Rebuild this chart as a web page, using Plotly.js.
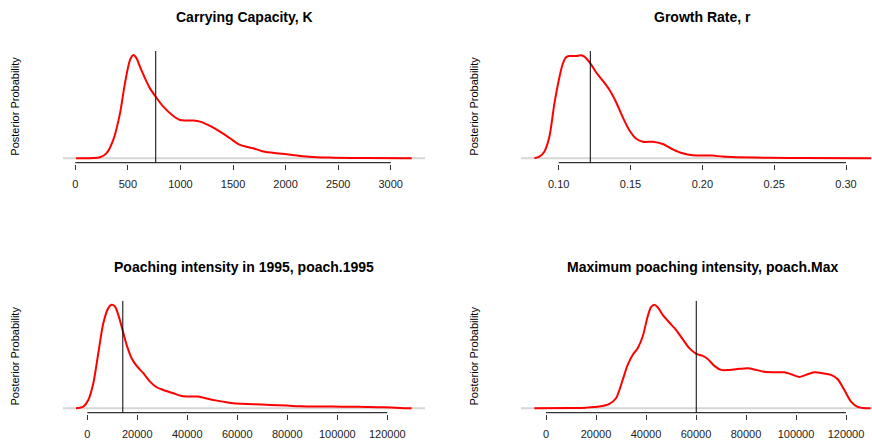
<!DOCTYPE html>
<html>
<head>
<meta charset="utf-8">
<script src="https://cdn.plot.ly/plotly-3.0.1.min.js"></script>
<style>html,body{margin:0;padding:0;background:#fff;}#chart{width:872px;height:443px;}</style>
</head>
<body>
<div id="chart"></div>
<script>
// ---- Data (relative posterior density, peak = 1) ----
var titles = ["Carrying Capacity, K", "Growth Rate, r", "Poaching intensity in 1995, poach.1995", "Maximum poaching intensity, poach.Max"];
var yLabel = "Posterior Probability";

var kX = [6, 235, 298, 362, 425, 472, 520, 552, 583, 615, 663, 710, 764, 837, 932, 996, 1060, 1123, 1186, 1281, 1376, 1471, 1567, 1693, 1788, 1915, 2010, 2137, 2296, 2454, 2771, 3200];
var kY = [0, 0.01, 0.05, 0.18, 0.435, 0.726, 0.95, 1.0, 0.968, 0.887, 0.774, 0.677, 0.597, 0.5, 0.41, 0.371, 0.366, 0.365, 0.355, 0.313, 0.258, 0.194, 0.129, 0.097, 0.065, 0.048, 0.039, 0.023, 0.01, 0.006, 0.002, 0];
var kLine = 765;
var kTicks = [0, 500, 1000, 1500, 2000, 2500, 3000];

var rX = [0.0831, 0.0865, 0.090, 0.0935, 0.097, 0.1005, 0.1028, 0.1051, 0.1074, 0.1121, 0.1155, 0.1179, 0.122, 0.126, 0.1306, 0.1353, 0.1399, 0.1445, 0.1492, 0.1538, 0.1585, 0.1654, 0.1724, 0.1794, 0.1863, 0.1933, 0.2002, 0.2072, 0.2142, 0.2234, 0.2466, 0.2698, 0.3174];
var rY = [0, 0.016, 0.064, 0.208, 0.529, 0.785, 0.913, 0.978, 0.99, 0.99, 0.997, 0.984, 0.92, 0.833, 0.753, 0.663, 0.545, 0.4, 0.272, 0.192, 0.16, 0.16, 0.138, 0.087, 0.048, 0.029, 0.026, 0.026, 0.016, 0.01, 0.005, 0.002, 0];
var rLine = 0.122;
var rTicks = [0.10, 0.15, 0.20, 0.25, 0.30];

var p95X = [-4533, -1600, 400, 2400, 4400, 6400, 8400, 9733, 11067, 12400, 14267, 15733, 17733, 19733, 22400, 25067, 27733, 30400, 34400, 37733, 41067, 44400, 47733, 51733, 55733, 59733, 66400, 73067, 79733, 85067, 91733, 98400, 105067, 111733, 118400, 125067, 129733];
var p95Y = [0, 0.016, 0.08, 0.242, 0.532, 0.823, 0.968, 1.0, 0.984, 0.903, 0.742, 0.613, 0.484, 0.41, 0.339, 0.258, 0.203, 0.177, 0.145, 0.119, 0.113, 0.113, 0.094, 0.074, 0.058, 0.045, 0.039, 0.032, 0.026, 0.019, 0.016, 0.016, 0.015, 0.013, 0.01, 0.003, 0];
var p95Line = 14200;
var p95Ticks = [0, 20000, 40000, 60000, 80000, 100000, 120000];

var pMaxX = [-4667, 9333, 16000, 21333, 25333, 28000, 30667, 32667, 34667, 36667, 38667, 40667, 42000, 43333, 44667, 46667, 49333, 52000, 54667, 57333, 60133, 62667, 64667, 67333, 70000, 73333, 77333, 80667, 84000, 87333, 91333, 95333, 98000, 101333, 104000, 107333, 110667, 114000, 116667, 119333, 122000, 124667, 128000, 129840];
var pMaxY = [0, 0.003, 0.006, 0.016, 0.042, 0.097, 0.274, 0.419, 0.516, 0.581, 0.694, 0.887, 0.977, 1.0, 0.977, 0.903, 0.829, 0.758, 0.668, 0.581, 0.526, 0.506, 0.477, 0.41, 0.371, 0.371, 0.381, 0.387, 0.371, 0.352, 0.348, 0.348, 0.329, 0.303, 0.323, 0.348, 0.339, 0.323, 0.281, 0.177, 0.064, 0.013, 0, 0];
var pMaxLine = 60100;
var pMaxTicks = [0, 20000, 40000, 60000, 80000, 100000, 120000];

// ---- Layout / styling ----
var W = 872, H = 443;
var FONT = "Liberation Sans, Arial, sans-serif";
var YR = [-0.0545, 1.04];   // extended ~1.5px below the R plot region so the axis line fits inside
var AXIS_Y = -0.0425;
var panels = [
  {x: kX, y: kY, v: kLine, ticks: kTicks, fmt: "d", xd: [63/W, 425/W], yd: [1-163.9/H, 1-50.9/H], regionBottom: 162.4, range: [-117, 3326], tcx: 244, tcy: 17, ylx: 15},
  {x: rX, y: rY, v: rLine, ticks: rTicks, fmt: ".2f", xd: [521/W, 1], yd: [1-163.9/H, 1-50.9/H], regionBottom: 162.4, range: [0.07376, 0.3181], tcx: 702.5, tcy: 17, ylx: 474},
  {x: p95X, y: p95Y, v: p95Line, ticks: p95Ticks, fmt: "d", xd: [63/W, 425/W], yd: [1-413.9/H, 1-300.7/H], regionBottom: 412.4, range: [-9720, 135080], tcx: 244, tcy: 267, ylx: 15},
  {x: pMaxX, y: pMaxY, v: pMaxLine, ticks: pMaxTicks, fmt: "d", xd: [521/W, 1], yd: [1-413.9/H, 1-300.7/H], regionBottom: 412.4, range: [-10000, 130400], tcx: 702.5, tcy: 267, ylx: 474}
];

var traces = [], shapes = [], annotations = [];
var layout = {
  width: W, height: H,
  margin: {l: 0, r: 0, t: 0, b: 0},
  paper_bgcolor: "#fff", plot_bgcolor: "#fff",
  showlegend: false,
  font: {family: FONT, size: 11, color: "#000"}
};

panels.forEach(function (p, i) {
  var n = i === 0 ? "" : String(i + 1);
  var xa = "x" + n, ya = "y" + n;
  // R-style axis line from first to last tick
  traces.push({
    type: "scatter", mode: "lines",
    x: [p.ticks[0], p.ticks[p.ticks.length - 1]], y: [AXIS_Y, AXIS_Y],
    xaxis: xa, yaxis: ya,
    line: {color: "#333", width: 1.2}, hoverinfo: "skip"
  });
  traces.push({
    type: "scatter", mode: "lines", x: p.x, y: p.y,
    xaxis: xa, yaxis: ya,
    line: {color: "#ff0000", width: 2, shape: "spline", smoothing: 0.8},
    hoverinfo: "skip"
  });
  layout["xaxis" + n] = {
    domain: p.xd, anchor: ya, range: p.range,
    showgrid: false, zeroline: false, showline: false,
    tickmode: "array", tickvals: p.ticks, tickformat: p.fmt,
    ticks: "outside", ticklen: 5, tickwidth: 1, tickcolor: "#333",
    ticklabelstandoff: 5,
    tickfont: {family: FONT, size: 11, color: "#222"}
  };
  layout["yaxis" + n] = {
    domain: p.yd, anchor: xa, range: YR,
    showgrid: false, zeroline: false, showline: false, showticklabels: false, ticks: ""
  };
  // grey zero line across the plot region
  shapes.push({type: "line", xref: xa + " domain", yref: ya, x0: 0, x1: 1, y0: 0, y1: 0,
    line: {color: "#d6d6d6", width: 2}, layer: "below"});
  // vertical reference line
  shapes.push({type: "line", xref: xa, yref: ya, x0: p.v, x1: p.v, y0: AXIS_Y, y1: YR[1],
    line: {color: "#000", width: 1}});
  annotations.push({text: "<b>" + titles[i] + "</b>", xref: "paper", yref: "paper",
    x: p.tcx / W, y: 1 - p.tcy / H, xanchor: "center", yanchor: "middle", showarrow: false,
    font: {family: FONT, size: 14, color: "#000"}});
  annotations.push({text: yLabel, xref: "paper", yref: "paper", textangle: -90,
    x: p.ylx / W, y: (1 - p.regionBottom / H + p.yd[1]) / 2, xanchor: "center", yanchor: "middle", showarrow: false,
    font: {family: FONT, size: 11, color: "#000"}});
});

layout.shapes = shapes;
layout.annotations = annotations;

Plotly.newPlot("chart", traces, layout, {staticPlot: true, displayModeBar: false});
</script>
</body>
</html>
